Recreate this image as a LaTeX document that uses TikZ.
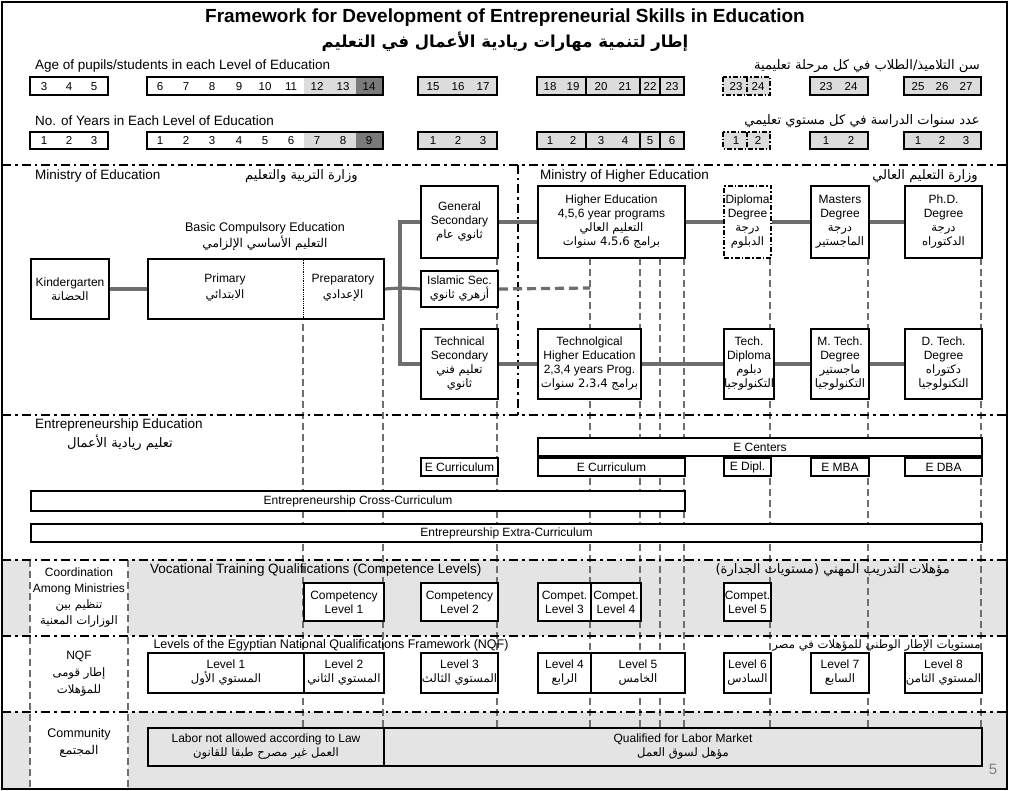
\documentclass[tikz,border=0pt]{standalone}
\usepackage{fontspec}
\setmainfont{Liberation Sans}
\newfontfamily\arabicfont[Script=Arabic,Scale=0.97]{DejaVu Sans}
\TeXXeTstate=1
\usetikzlibrary{positioning}
\newcommand\AR[1]{{\arabicfont\beginR #1\endR}}
\definecolor{lg}{HTML}{DCDCDC}
\definecolor{dg}{HTML}{7A7A7A}
\definecolor{cg}{HTML}{6E6E6E}
\definecolor{bgg}{HTML}{E4E4E4}
\tikzset{
 box/.style={draw,line width=2pt,fill=white,align=center,inner sep=0pt,anchor=north west,font=\fontsize{12}{14}\selectfont},
 dbox/.style={box,dash pattern=on 5pt off 2pt on 1.5pt off 2pt},
 conn/.style={draw=cg,line width=3.2pt},
 sect/.style={line width=2pt,dash pattern=on 9pt off 4pt on 2.5pt off 4pt},
 guide/.style={draw=cg,line width=1.6pt,dash pattern=on 7pt off 4pt},
 rb/.style={line width=2pt},
 num/.style={font=\fontsize{11.5}{12}\selectfont,inner sep=0pt,text height=8.2pt,text depth=0pt},
 lab/.style={font=\fontsize{13.5}{15}\selectfont,inner sep=0pt},
}
\newcommand\bx[7][]{\node[box,#1,minimum width=#5pt-#3pt,minimum height=#6pt-#4pt] (#2) at (#3,#4) {#7};}
\newcommand\rowb[2]{%
 \fill[lg] (304,#1) rectangle (356,#2); \fill[dg] (356,#1) rectangle (383,#2);
 \fill[lg] (418,#1) rectangle (497,#2); \fill[lg] (537,#1) rectangle (684,#2);
 \fill[lg] (723,#1) rectangle (770,#2); \fill[lg] (810,#1) rectangle (868,#2);
 \fill[lg] (904,#1) rectangle (981,#2);
 \draw[rb] (30,#1) rectangle (108,#2) (147,#1) rectangle (383,#2) (418,#1) rectangle (497,#2)
  (537,#1) rectangle (684,#2) (586,#1)--(586,#2) (640,#1)--(640,#2) (660,#1)--(660,#2)
  (810,#1) rectangle (868,#2) (904,#1) rectangle (981,#2);
 \draw[rb,dash pattern=on 5pt off 2pt on 1.5pt off 2pt] (723,#1) rectangle (770,#2) (747,#1)--(747,#2);
}
\begin{document}
\begin{tikzpicture}[x=1pt,y=-1pt]
\useasboundingbox (0,0) rectangle (1009,791);
% backgrounds
\fill[bgg] (2,560) rectangle (1007,636);
\fill[bgg] (2,712) rectangle (1007,789);
\fill[white] (30,560) rectangle (128,636);
\fill[white] (30,712) rectangle (128,789);
% title
\node[font=\bfseries\fontsize{19}{22}\selectfont] (title) at (505,18) {Framework for Development of Entrepreneurial Skills in Education};
\node[font=\bfseries\fontsize{17}{20}\selectfont] (titlear) at (505,42) {\AR{إطار لتنمية مهارات ريادية الأعمال في التعليم}};
% age row
\node[lab,anchor=west] (agelab) at (35,66) {Age of pupils/students in each Level of Education};
\node[lab,anchor=east] (agear) at (980,66) {\AR{سن التلاميذ/الطلاب في كل مرحلة تعليمية}};
\rowb{77}{95}
\foreach \x/\t in {44/3,69/4,94/5,160/6,186/7,212/8,239/9,265/10,291/11,317/12,343/13,369/14,433/15,458/16,483/17,550/18,573/19,601/20,625/21,650/22,672/23,736/23,758/24,826/23,851/24,918/25,942/26,966/27}
 \node[num] (a\x) at (\x,86) {\t};
% years row
\node[lab,anchor=west] (yrlab) at (35,121) {No. of Years in Each Level of Education};
\node[lab,anchor=east] (yrar) at (980,121) {\AR{عدد سنوات الدراسة في كل مستوي تعليمي}};
\rowb{132}{149}
\foreach \x/\t in {44/1,69/2,94/3,160/1,186/2,212/3,239/4,265/5,291/6,317/7,343/8,369/9,433/1,458/2,483/3,550/1,573/2,601/3,625/4,650/5,672/6,736/1,758/2,826/1,851/2,918/1,942/2,966/3}
 \node[num] (y\x) at (\x,140) {\t};
% guides
\foreach \x in {303,383,497,590,640,660,684,770,868,981}
 \draw[guide] (\x,258) -- (\x,727);
\foreach \x in {30,128}
 \draw[guide] (\x,560) -- (\x,789);
% section lines
\draw[sect] (2,165) -- (1007,165);
\draw[sect] (2,415) -- (1007,415);
\draw[sect] (2,560) -- (1007,560);
\draw[sect] (2,636) -- (1007,636);
\draw[sect] (2,712) -- (1007,712);
\draw[sect] (518,165) -- (518,415);
% ministry labels
\node[lab,anchor=west] (moe) at (35,176) {Ministry of Education};
\node[lab,anchor=west] (moear) at (245,176) {\AR{وزارة التربية والتعليم}};
\node[lab,anchor=west] (mohe) at (540,176) {Ministry of Higher Education};
\node[lab,anchor=east] (mohear) at (978,176) {\AR{وزارة التعليم العالي}};
\node[align=center,font=\fontsize{12.5}{16}\selectfont] (basic) at (265,236) {Basic Compulsory Education\\\AR{التعليم الأساسي الإلزامي}};
% boxes
\bx{kg}{30}{258}{108}{318}{Kindergarten\\\AR{الحضانة}}
\bx{pp}{147}{258}{383}{318}{}
\draw[densely dotted,thick] (303,258) -- (303,318);
\node[align=center,font=\fontsize{12}{16}\selectfont] (prim) at (225,288) {Primary\\\AR{الابتدائي}};
\node[align=center,font=\fontsize{12}{16}\selectfont] (prep) at (343,288) {Preparatory\\\AR{الإعدادي}};
\bx{gs}{420}{185}{497}{257}{General\\Secondary\\\AR{ثانوي عام}}
\bx{is}{420}{270}{497}{306}{Islamic Sec.\\\AR{أزهري ثانوي}}
\bx{ts}{420}{328}{497}{398}{Technical\\Secondary\\\AR{تعليم فني}\\\AR{ثانوي}}
\bx{he}{537}{185}{684}{257}{Higher Education\\4,5,6 year programs\\\AR{التعليم العالي}\\\AR{برامج \beginL4،5،6\endL{} سنوات}}
\bx[dbox]{dip}{723}{185}{770}{257}{Diploma\\Degree\\\AR{درجة}\\\AR{الدبلوم}}
\bx{ms}{810}{185}{868}{257}{Masters\\Degree\\\AR{درجة}\\\AR{الماجستير}}
\bx{phd}{904}{185}{981}{257}{Ph.D.\\Degree\\\AR{درجة}\\\AR{الدكتوراه}}
\bx{th}{537}{328}{640}{398}{Technolgical\\Higher Education\\2,3,4 years Prog.\\\AR{برامج \beginL2،3،4\endL{} سنوات}}
\bx{td}{723}{328}{770}{398}{Tech.\\Diploma\\\AR{دبلوم}\\\AR{التكنولوجيا}}
\bx{mt}{810}{328}{868}{398}{M. Tech.\\Degree\\\AR{ماجستير}\\\AR{التكنولوجيا}}
\bx{dt}{904}{328}{981}{398}{D. Tech.\\Degree\\\AR{دكتوراه}\\\AR{التكنولوجيا}}
% connectors
\coordinate (br) at (400,288);
\coordinate (isend) at (590,288);
\draw[conn] (kg.east) -- (pp.west);
\draw[conn] (pp.east) -- (br);
\draw[conn] (gs.west) -| (br) |- (ts.west);
\draw[conn] (br) -- (is.west);
\draw[conn,dash pattern=on 9pt off 5pt] (is.east) -- (isend);
\draw[conn] (gs.east) -- (he.west);
\draw[conn] (he.east) -- (dip.west);
\draw[conn] (dip.east) -- (ms.west);
\draw[conn] (ms.east) -- (phd.west);
\draw[conn] (ts.east) -- (th.west);
\draw[conn] (th.east) -- (td.west);
\draw[conn] (td.east) -- (mt.west);
\draw[conn] (mt.east) -- (dt.west);
% entrepreneurship
\node[lab,anchor=west] (ee) at (35,425) {Entrepreneurship Education};
\node[lab] (eear) at (120,443) {\AR{تعليم ريادية الأعمال}};
\bx{ecen}{537}{437}{981}{455}{E Centers}
\bx{ec1}{420}{457}{497}{475}{E Curriculum}
\bx{ec2}{537}{457}{684}{475}{E Curriculum}
\bx{edip}{723}{457}{770}{475}{E Dipl.}
\bx{emba}{810}{457}{868}{475}{E MBA}
\bx{edba}{904}{457}{981}{475}{E DBA}
\bx{cross}{30}{490}{684}{510}{Entrepreneurship Cross-Curriculum}
\bx{extra}{30}{523}{981}{541}{Entrepreurship Extra-Curriculum}
% coordination
\node[align=center,font=\fontsize{12}{16}\selectfont] (coord) at (79,598) {Coordination\\Among Ministries\\\AR{تنظيم بين}\\\AR{الوزارات المعنية}};
\node[lab,anchor=west] (voc) at (150,570) {Vocational Training Qualifications (Competence Levels)};
\node[lab,anchor=east] (vocar) at (950,570) {\AR{مؤهلات التدريب المهني (مستويات الجدارة)}};
\bx{cl1}{303}{582}{383}{620}{Competency\\Level 1}
\bx{cl2}{420}{582}{497}{620}{Competency\\Level 2}
\bx{cl3}{537}{582}{590}{620}{Compet.\\Level 3}
\bx{cl4}{590}{582}{640}{620}{Compet.\\Level 4}
\bx{cl5}{723}{582}{770}{620}{Compet.\\Level 5}
% NQF
\node[align=center,font=\fontsize{12}{17}\selectfont] (nqf) at (79,674) {NQF\\\AR{إطار قومى}\\\AR{للمؤهلات}};
\node[anchor=west,font=\fontsize{12.5}{14}\selectfont] (nqflab) at (150,645) {Levels of the Egyptian National Qualifications Framework (NQF)};
\node[anchor=east,font=\fontsize{12}{14}\selectfont] (nqfar) at (984,645) {\AR{مستويات الإطار الوطني للمؤهلات في مصر}};
\bx{l1}{147}{652}{303}{692}{Level 1\\\AR{المستوي الأول}}
\bx{l2}{303}{652}{383}{692}{Level 2\\\AR{المستوي الثاني}}
\bx{l3}{420}{652}{497}{692}{Level 3\\\AR{المستوي الثالث}}
\bx{l4}{537}{652}{590}{692}{Level 4\\\AR{الرابع}}
\bx{l5}{590}{652}{684}{692}{Level 5\\\AR{الخامس}}
\bx{l6}{723}{652}{770}{692}{Level 6\\\AR{السادس}}
\bx{l7}{810}{652}{868}{692}{Level 7\\\AR{السابع}}
\bx{l8}{904}{652}{981}{692}{Level 8\\\AR{المستوي الثامن}}
% community
\node[align=center,font=\fontsize{12.5}{17}\selectfont] (comm) at (79,743) {Community\\\AR{المجتمع}};
\bx[fill=bgg]{lna}{147}{727}{383}{765}{Labor not allowed according to Law\\\AR{العمل غير مصرح طبقا للقانون}}
\bx[fill=bgg]{qlm}{383}{727}{981}{765}{Qualified for Labor Market\\\AR{مؤهل لسوق العمل}}
\node[text=gray,font=\fontsize{15}{16}\selectfont] (pg) at (993,769) {5};
% frame
\draw[line width=2.5pt] (2,2) rectangle (1007,789);
\end{tikzpicture}
\end{document}
